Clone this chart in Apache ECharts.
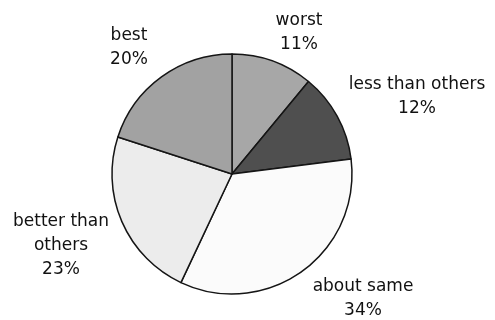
<!DOCTYPE html>
<html>
<head>
<meta charset="utf-8">
<script src="https://cdn.jsdelivr.net/npm/echarts@6/dist/echarts.min.js"></script>
<style>
html,body{margin:0;padding:0;background:#fff;}
#chart{width:495px;height:320px;}
</style>
</head>
<body>
<div id="chart"></div>
<script>
const categories = ['worst', 'less than others', 'about same', 'better than others', 'best'];
const values = [11, 12, 34, 23, 20];
const colors = ['#a7a7a7', '#4f4f4f', '#fbfbfb', '#ececec', '#a2a2a2'];
const labelText = ['worst', 'less than others', 'about same', 'better than\nothers', 'best'];
const labelPos = [[299, 33], [417, 97], [363, 299], [61, 246], [129, 48]];

const chart = echarts.init(document.getElementById('chart'), null, {renderer: 'canvas'});
chart.setOption({
  animation: false,
  backgroundColor: '#ffffff',
  series: [{
    type: 'pie',
    center: [232, 174],
    radius: 120,
    startAngle: 90,
    clockwise: true,
    silent: true,
    avoidLabelOverlap: false,
    data: categories.map((c, i) => ({
      name: c,
      value: values[i],
      itemStyle: {color: colors[i]}
    })),
    itemStyle: {borderColor: '#151515', borderWidth: 1.5},
    label: {
      show: true,
      position: 'outside',
      formatter: p => labelText[p.dataIndex] + '\n' + p.value + '%',
      fontFamily: 'DejaVu Sans',
      fontSize: 17,
      lineHeight: 24,
      color: '#111111',
      align: 'center',
      overflow: 'none',
      width: 200
    },
    labelLine: {show: false},
    labelLayout: p => ({
      x: labelPos[p.dataIndex][0],
      y: labelPos[p.dataIndex][1],
      align: 'center',
      verticalAlign: 'middle'
    })
  }]
});
</script>
</body>
</html>
